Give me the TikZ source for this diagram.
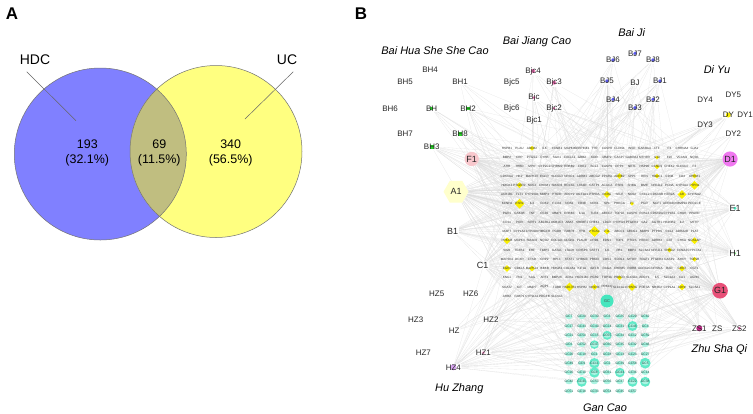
\documentclass[tikz,border=0pt]{standalone}
\usepackage{fontspec}
\setmainfont{Liberation Sans}
\usetikzlibrary{shapes.geometric}
\pgfdeclarelayer{edges}
\pgfsetlayers{edges,main}
\definecolor{vblue}{RGB}{128,128,255}
\definecolor{vyel}{RGB}{255,255,128}
\definecolor{vmix}{RGB}{192,190,128}
\definecolor{tealc}{RGB}{70,230,190}
\definecolor{diac}{RGB}{250,240,0}
\definecolor{hexy}{RGB}{255,255,204}
\definecolor{fpink}{RGB}{248,200,205}
\definecolor{dviol}{RGB}{240,120,240}
\definecolor{gred}{RGB}{232,80,120}
\definecolor{bjblue}{RGB}{90,90,240}
\definecolor{bhgreen}{RGB}{40,210,40}
\definecolor{bjcpink}{RGB}{240,110,180}
\definecolor{zsmag}{RGB}{200,40,140}
\definecolor{hzlav}{RGB}{215,165,240}
\newcommand\myfs[1]{\fontsize{#1}{#1}\selectfont}
\tikzset{
  lab/.style={font=\myfs{8}, text=black!85, inner sep=0.6bp},
  biglab/.style={font=\myfs{9}, text=black!85, inner sep=0.8bp},
  hdr/.style={font=\myfs{11}\itshape, text=black},
  gene/.style={font=\myfs{3.1}, text=black!80, inner sep=0.3bp},
  gcl/.style={font=\myfs{3.3}, text=black!65!tealc, inner sep=0.3bp},
  edge/.style={draw=black!13, line width=0.1bp},
  vtxt/.style={font=\fontsize{12.5}{14.5}\selectfont, align=center, text=black},
  leader/.style={draw=black!60, line width=0.5bp},
  dia/.style={diamond, fill=diac, inner sep=0, minimum size=#1},
}
\begin{document}
\begin{tikzpicture}[x=1bp,y=-1bp]
\useasboundingbox (0,0) rectangle (753,413);
\begin{pgfonlayer}{edges}
\fill[white] (0,0) rectangle (753,413);
\end{pgfonlayer}

% ---------------- Panel A ----------------
\node[font=\myfs{17}\bfseries] (pA) at (12,14) {A};
\node[font=\myfs{17}\bfseries] (pB) at (361,14) {B};

\fill[vblue] (100.3,154) circle (86bp);
\fill[vyel] (216,151.5) circle (86bp);
\begin{scope}
  \clip (100.3,154) circle (86bp);
  \fill[vmix] (216,151.5) circle (86bp);
\end{scope}
\draw[black!55, line width=0.5bp] (100.3,154) circle (86bp);
\draw[black!55, line width=0.5bp] (216,151.5) circle (86bp);

\node[font=\myfs{14}] (hdc) at (35,60) {HDC};
\node[font=\myfs{14}] (uc) at (287,60) {UC};
\coordinate (hdcs) at (26.7,71.7);
\coordinate (hdce) at (76,120.7);
\coordinate (ucs) at (293.3,71.7);
\coordinate (uce) at (245,119);
\draw[leader] (hdcs) -- (hdce);
\draw[leader] (ucs) -- (uce);

\node[vtxt] (n1) at (87.3,153) {193\\(32.1\%)};
\node[vtxt] (n2) at (159.3,153) {69\\(11.5\%)};
\node[vtxt] (n3) at (230.7,153) {340\\(56.5\%)};

% ---------------- Panel B: headers ----------------
\node[hdr] (hBH) at (435,51) {Bai Hua She She Cao};
\node[hdr] (hBJC) at (537,41.7) {Bai Jiang Cao};
\node[hdr] (hBJ) at (631.7,33) {Bai Ji};
\node[hdr] (hDY) at (717,70) {Di Yu};
\node[hdr] (hZS) at (719.3,349.3) {Zhu Sha Qi};
\node[hdr] (hHZ) at (459.3,388.3) {Hu Zhang};
\node[hdr] (hGC) at (605,408) {Gan Cao};

% ---------------- yellow diamonds in gene grid ----------------
\foreach \r/\c/\s in {1/3/5, 2/13/4, 3/13/5, 4/10/6, 4/13/5, 4/16/5, 5/2/6, 5/16/9,
  6/9/7, 6/15/9, 7/2/10, 7/11/4, 10/8/11, 10/9/6, 11/1/7, 11/16/7, 12/14/5,
  13/16/5, 14/1/7, 14/3/6, 14/15/6, 15/10/5, 16/6/9, 16/8/6, 16/11/8, 16/15/7}
  \node[dia=\s bp] at ({507+(\c-1)*12.5},{148.3+(\r-1)*9.25}) {};

% ---------------- gene grid ----------------
\foreach \row [count=\r] in {
 {HSPB1,PLAU,ABCB2,ILK,CCNB1,MAPK8,SERPINE1,TYR,CASP8,CLDN4,INSR,GABRA4,LTF,F3,CHRNA4,GJA1},
 {BMP2,CRP,PTGS1,CYBB,SGK1,CXCL11,GRB2,KDR,MMP2,CASP7,GABRA2,MTHFR,IL10,F10,VCAM1,NQO1},
 {AHR,THBD,MPO,CYP2C9,CHRM2,ERBB2,CDK1,BCL2,CASP9,DPP4,NET1,HSP90,CCND1,CHEK2,SLC6A4,F2},
 {CDKN1A,HK2,MAPK10,EGFR,SLC6A3,NR3C1,ADRB1,ABCG2,PPARA,ADRB2,SPP1,REN,HDAC1,CD38,CD4,OPRM1},
 {HMOX1,PTGER2,NOS3,CHRM1,SMAD3,ROCK1,LTB4R,GSTP1,ACACA,ESR1,SHBG,MME,NFE2L2,PCNA,CYP3A4,PTPN1},
 {AKR1B1,FLT1,CYP19A1,MMP3,PTGIR,ADCY2,UGT1A1,PTPRA,RXRA,SELE,NOS2,CXCL2,CDKN1B,HTR2A,AR,CHRNA2},
 {KCNH2,ESR2,IL4,CDK2,F13A1,NOS1,CD3E,NOX1,SP1,PRKCA,F7,PGR,NCF1,ADRA1D,MMP10,PCOLCE},
 {PGR1,GSK3B,TNF,CCR1,MMP1,ERBB3,IL1A,TLR4,ABCC2,TOP2A,CASP6,FOSL2,CDKN2A,CYP1B1,CHUK,PPARD},
 {CD14,POR,SIRT1,ABCB11,AKR1C3,ABAT,SREBF1,CHEK1,LDLR,PTPN22,PTGER3,CA2,AGTR1,HSD3B2,IL2,MTTP},
 {MAPT,CYP1A2,CYP2D6,HMGCR,PGDH,FABP4,TPO,PTGS2,F11,ABCC1,ABCG1,MMP9,PTPRS,CCL2,ADRA2B,PLAT},
 {PRKCB,MAPK3,SMAD2,NQO2,COL1A1,NLGN1,PLAUR,DRD1,EDN1,TOP1,PTGIS,HTR2C,ADRB3,CAT,CHKA,NOS1AP},
 {SIM1,TGFB1,EHF,TIMP1,GATA1,LTA4H,CRISP3,GSTT1,IL6,RB1,BMP4,SLC6A2,NFE2L1,SHBG2,CCNA2,CYP17A1},
 {MAP2K4,DCXR,CTSD,CRP2,RPL1,STAT1,CHRM3,PRKCI,CDS1,SCOL1,MTOR,SOAT1,PTGER4,CASP2,AHCY,TOP2B},
 {EGR1,CDKL5,MAPK14,IKBKB,HMGB1,COL3A1,KIF1A,IGF1R,RAGA,CHRM5,RORB,ADRA2C,NFKBIA,BAD,CROT,CGT1},
 {KNG1,FN1,SAG,ART1,BMP2K,ADSL,HSD11B1,PGR2,TOP3A,PRKCD,SLC9A1,ADCY1,IL5,SLC1A2,CA1,AGRN},
 {SOAT2,KIT,MMP7,AQP1,TUBB,HSD17B1,HSPB2,NR1H4,PRKCQ,SLC11A1,PPARG,PDE3A,NR3C2,CYP1A1,CDH2,SLC5A1},
 {AHR2,FABP1,CYP11A1,PDGFB,SLC6A1}}
{
  \foreach \g [count=\c] in \row
    \node[gene] (g-\r-\c) at ({507+(\c-1)*12.5},{148.3+(\r-1)*9.25}) {\g};
}

% ---------------- Gan Cao grid ----------------
\foreach \r/\c/\s in {2/6/5, 3/4/4.5, 4/3/4.3, 6/3/5.2, 6/7/5.4, 7/3/5.2, 7/5/4.8, 8/2/5, 8/6/5, 8/7/5}
  \fill[tealc!85] ({569+(\c-1)*12.7},{316.7+(\r-1)*9.3}) circle (\s bp);
\foreach \row [count=\r] in {
 {GC7,GC20,GC30,GC3,GC25,GC29,GC62},
 {GC17,GC43,GC40,GC24,GC31,GC46,GC4},
 {GC21,GC50,GC15,GC55,GC34,GC12,GC59},
 {GC6,GC52,GC47,GC60,GC35,GC32,GC48},
 {GC26,GC19,GC1,GC28,GC13,GC23,GC27},
 {GC49,GC9,GC11,GC2,GC39,GC58,GC5},
 {GC16,GC10,GC8,GC61,GC44,GC36,GC14},
 {GC42,GC41,GC53,GC56,GC37,GC22,GC38},
 {GC51,GC18,GC33,GC54,GC45,GC57}}
{
  \foreach \g [count=\c] in \row {
    \fill[tealc!45] ({569+(\c-1)*12.7},{316.7+(\r-1)*9.3}) ellipse (3.6bp and 2.4bp);
    \node[gcl] (gc-\r-\c) at ({569+(\c-1)*12.7},{316.7+(\r-1)*9.3}) {\g};
  }
}

% ---------------- ingredient markers ----------------
\foreach \x/\y/\s in {431.7/146.7/2, 460/134/1.6, 468/108.3/1.6, 431.7/108.3/1.4}
  \fill[bhgreen] (\x-\s,\y-\s) rectangle (\x+\s,\y+\s);
\foreach \x/\y/\s in {533/71/2, 554/82.7/2, 534/97.7/1.5, 554/108.3/1.3}
  \fill[bjcpink] (\x,\y) circle (\s bp);
\foreach \x/\y in {635/53.3, 613/60, 653/60, 607/81, 660/81, 613/99.3, 653/99.3, 635/107.7}
  \fill[bjblue] (\x,\y) circle (1.8bp);
\fill[diac] (728.3,115) circle (2.5bp);
\fill[hzlav] (453.3,367.3) circle (3bp);
\fill[bjcpink!70] (483.3,352.7) circle (1.5bp);
\fill[zsmag] (699.3,328.3) circle (3bp);
\fill[bjcpink] (739.3,328.3) circle (1.5bp);
\fill[tealc] (735,208.3) circle (1.6bp);
\fill[bhgreen!60] (735,253.3) circle (1.2bp);

% ---------------- ingredient nodes ----------------
\node[lab] (BH4) at (430,70) {BH4};
\node[lab] (BH5) at (405,81.7) {BH5};
\node[lab] (BH1) at (460,81.7) {BH1};
\node[lab] (BH6) at (390,108.3) {BH6};
\node[lab] (BH) at (431.7,108.3) {BH};
\node[lab] (BH2) at (468,108.3) {BH2};
\node[lab] (BH7) at (405,134) {BH7};
\node[lab] (BH8) at (460,134) {BH8};
\node[lab] (BH3) at (431.7,146.7) {BH3};

\node[lab] (Bjc4) at (533,71) {Bjc4};
\node[lab] (Bjc5) at (511.7,82.7) {Bjc5};
\node[lab] (Bjc3) at (554,82.7) {Bjc3};
\node[lab] (Bjc) at (534,97.7) {Bjc};
\node[lab] (Bjc6) at (511.7,108.3) {Bjc6};
\node[lab] (Bjc2) at (554,108.3) {Bjc2};
\node[lab] (Bjc1) at (534,120.7) {Bjc1};

\node[lab] (BJ7) at (635,53.3) {BJ7};
\node[lab] (BJ6) at (613,60) {BJ6};
\node[lab] (BJ8) at (653,60) {BJ8};
\node[lab] (BJ5) at (607,81) {BJ5};
\node[lab] (BJ) at (635,82.7) {BJ};
\node[lab] (BJ1) at (660,81) {BJ1};
\node[lab] (BJ4) at (613,99.3) {BJ4};
\node[lab] (BJ2) at (653,99.3) {BJ2};
\node[lab] (BJ3) at (635,107.7) {BJ3};

\node[lab] (DY5) at (733.3,94.3) {DY5};
\node[lab] (DY4) at (705,100) {DY4};
\node[lab] (DY) at (728.3,115) {DY};
\node[lab] (DY1) at (745,115) {DY1};
\node[lab] (DY3) at (705,125) {DY3};
\node[lab] (DY2) at (733.3,133.3) {DY2};

\node[circle, fill=fpink, minimum size=12bp, inner sep=0, biglab] (F1) at (471.7,159) {F1};
\node[regular polygon, regular polygon sides=6, minimum size=25bp, fill=hexy, inner sep=0, biglab] (A1) at (456,191.7) {A1};
\node[biglab] (B1) at (452.7,231) {B1};
\node[biglab] (C1) at (482.7,265) {C1};
\node[circle, fill=dviol, minimum size=13bp, inner sep=0, biglab] (D1) at (730,159) {D1};
\node[biglab] (E1) at (735,208.3) {E1};
\node[biglab] (H1) at (735,253.3) {H1};
\node[circle, fill=gred, minimum size=10bp, inner sep=0, biglab] (G1) at (720,290.7) {G1};

\node[lab] (ZS1) at (699.3,328.3) {ZS1};
\node[lab] (ZS) at (717.3,328.3) {ZS};
\node[lab] (ZS2) at (739.3,328.3) {ZS2};

\node[lab] (HZ5) at (436.7,294) {HZ5};
\node[lab] (HZ6) at (470.7,294) {HZ6};
\node[lab] (HZ3) at (415.7,320) {HZ3};
\node[lab] (HZ2) at (491,320) {HZ2};
\node[lab] (HZ) at (454.3,331) {HZ};
\node[lab] (HZ7) at (423.3,352.7) {HZ7};
\node[lab] (HZ1) at (483.3,352.7) {HZ1};
\node[lab] (HZ4) at (453.3,367.3) {HZ4};

\node[circle, fill=tealc, minimum size=13bp, inner sep=0, font=\myfs{4}, text=black!70] (GC) at (607,301) {GC};

% ---------------- edges ----------------
\begin{pgfonlayer}{edges}
\pgfmathsetseed{17}
\foreach \src/\n in {A1/75, F1/45, D1/50, G1/45, H1/30, E1/25, B1/30, C1/30,
  BH3/14, BH8/10, BH2/10, BH/6, BH1/5, HZ4/16, HZ1/12, HZ2/10, HZ/6,
  ZS1/16, ZS2/10, ZS/6, Bjc3/10, Bjc2/10, Bjc/8, Bjc4/6,
  BJ1/8, BJ2/8, BJ3/8, BJ4/8, BJ5/8, BJ/8, BJ6/6, BJ8/6, DY/10, DY2/6, DY3/5, GC/30}
{
  \foreach \k in {1,...,\n} {
    \pgfmathrandominteger{\rr}{1}{16}
    \pgfmathrandominteger{\cc}{1}{16}
    \draw[edge] (\src) -- (g-\rr-\cc);
  }
}
\foreach \src/\n in {HZ4/14, HZ1/12, HZ2/8, ZS1/14, ZS2/8, G1/14, C1/10}
{
  \foreach \k in {1,...,\n} {
    \pgfmathrandominteger{\rr}{1}{8}
    \pgfmathrandominteger{\cc}{1}{7}
    \draw[edge] (\src) -- (gc-\rr-\cc);
  }
}
\foreach \r in {1,...,8} {
  \foreach \c in {1,...,7} {
    \foreach \k in {1,2,3} {
      \pgfmathrandominteger{\rr}{5}{16}
      \pgfmathrandominteger{\cc}{1}{16}
      \draw[edge] (gc-\r-\c) -- (g-\rr-\cc);
    }
  }
}
\end{pgfonlayer}
\end{tikzpicture}
\end{document}
